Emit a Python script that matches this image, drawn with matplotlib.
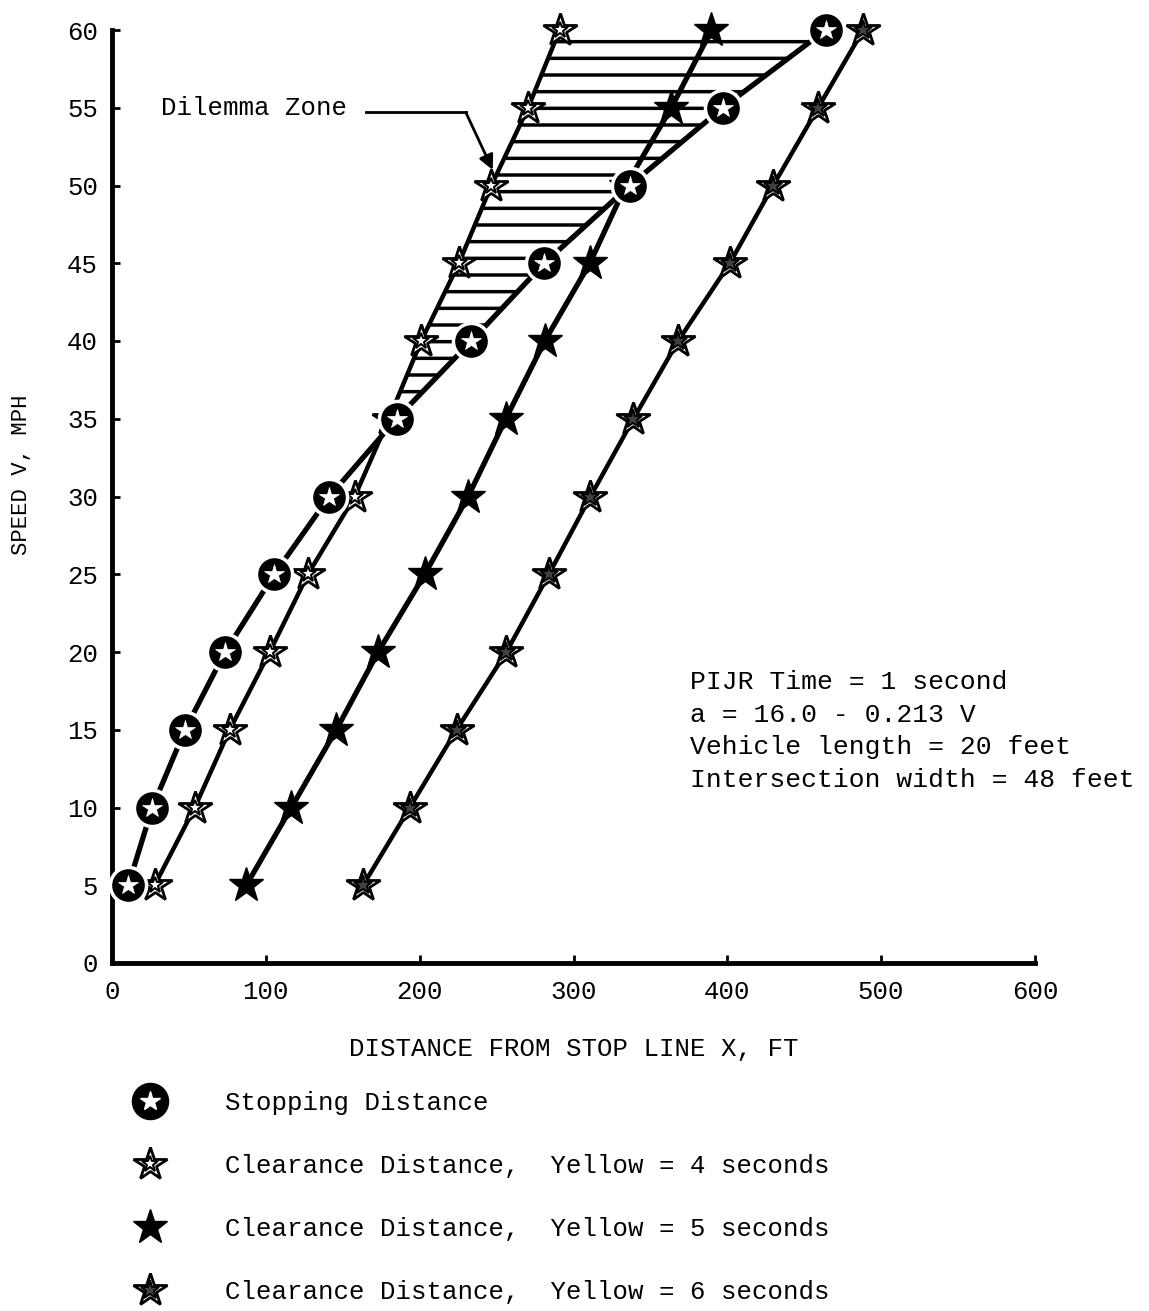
import numpy as np
import matplotlib
matplotlib.use("Agg")
import matplotlib.pyplot as plt
from matplotlib.lines import Line2D
from matplotlib.legend_handler import HandlerTuple

plt.rcParams['font.family'] = ['Liberation Mono', 'DejaVu Sans Mono']
plt.rcParams['hatch.linewidth'] = 2.5

# speed (mph) and distances from stop line (ft)
speed = [5, 10, 15, 20, 25, 30, 35, 40, 45, 50, 55, 60]
stopping = [10.6, 26.2, 47.5, 73.5, 105.5, 141.3, 185, 233.6, 281, 336.6, 397, 464]
yellow4 = [27.7, 53.8, 76.5, 102.5, 127.4, 157.8, 180, 201, 225.5, 246.6, 270.5, 291]
yellow5 = [87.3, 116.6, 145.8, 173, 203.3, 231.5, 256, 281.3, 310.6, 334, 363.6, 389.7]
yellow6 = [163.2, 193.6, 224, 256.4, 284, 311, 339, 368, 401.6, 429.8, 459, 488.3]

xticks = [0, 100, 200, 300, 400, 500, 600]
yticks = [0, 5, 10, 15, 20, 25, 30, 35, 40, 45, 50, 55, 60]

notes = ["PIJR Time = 1 second",
         "a = 16.0 - 0.213 V",
         "Vehicle length = 20 feet",
         "Intersection width = 48 feet"]

labels = ["Stopping Distance",
          "Clearance Distance,  Yellow = 4 seconds",
          "Clearance Distance,  Yellow = 5 seconds",
          "Clearance Distance,  Yellow = 6 seconds"]

FS = 18.5

fig = plt.figure(figsize=(11.49, 13.11), dpi=100)
ax = fig.add_axes([112 / 1149, 1 - 963 / 1311, (1035 - 112) / 1149, (963 - 30) / 1311])

spd = np.array(speed, dtype=float)
xs = np.array(stopping)
x4 = np.array(yellow4)

# dilemma zone hatch between the 4 s clearance line and stopping line
ax.fill_betweenx(spd, x4, xs, where=xs >= x4, interpolate=True,
                 facecolor='none', edgecolor='black', hatch='-', linewidth=0, zorder=1)

# lines
ax.plot(yellow6, speed, color='black', lw=3.2, zorder=2, clip_on=False)
ax.plot(yellow5, speed, color='black', lw=3.8, zorder=2, clip_on=False)
ax.plot(yellow4, speed, color='black', lw=3.2, zorder=2, clip_on=False)
ax.plot(stopping, speed, color='black', lw=3.8, zorder=2, clip_on=False)

# markers
ax.plot(yellow6, speed, ls='none', marker='*', ms=25, mfc='white', mec='black', mew=2, zorder=4, clip_on=False)
ax.plot(yellow6, speed, ls='none', marker='*', ms=14, mfc='0.25', mec='black', mew=1.5, zorder=5, clip_on=False)
ax.plot(yellow5, speed, ls='none', marker='*', ms=26, mfc='black', mec='black', mew=1, zorder=4, clip_on=False)
ax.plot(yellow4, speed, ls='none', marker='*', ms=25, mfc='white', mec='black', mew=2, zorder=4, clip_on=False)
ax.plot(yellow4, speed, ls='none', marker='*', ms=12, mfc='none', mec='black', mew=1.5, zorder=5, clip_on=False)
ax.plot(stopping, speed, ls='none', marker='o', ms=26, mfc='black', mec='white', mew=2.5, zorder=6, clip_on=False)
ax.plot(stopping, speed, ls='none', marker='*', ms=15, mfc='white', mec='white', mew=0.5, zorder=7, clip_on=False)

# axes styling
ax.set_xlim(0, 600)
ax.set_ylim(0, 60)
ax.set_xticks(xticks)
ax.set_yticks(yticks)
ax.spines['top'].set_visible(False)
ax.spines['right'].set_visible(False)
ax.spines['left'].set_linewidth(3.5)
ax.spines['bottom'].set_linewidth(3.5)
ax.tick_params(direction='in', length=6, width=2, labelsize=FS)
ax.tick_params(axis='x', pad=12)
ax.tick_params(axis='y', pad=10)

ax.set_xlabel("DISTANCE FROM STOP LINE X, FT", fontsize=FS, labelpad=24)
fig.text(22 / 1149, 1 - 475 / 1311, "SPEED V, MPH", rotation=90, fontsize=16,
         ha='center', va='center')

# dilemma zone annotation
ax.text(31.9, 55.0, "Dilemma Zone", fontsize=FS, ha='left', va='center')
ax.add_line(Line2D([165, 230], [54.7, 54.7], color='black', lw=2))
ax.annotate('', xy=(247.5, 51.0), xytext=(230, 54.7),
            arrowprops=dict(arrowstyle='-|>', color='black', lw=2, mutation_scale=22,
                            shrinkA=0, shrinkB=0))

for i, t in enumerate(notes):
    ax.text(376, 18.1 - i * 2.12, t, fontsize=19, ha='left', va='center')

# legend
h_stop = (Line2D([], [], ls='none', marker='o', ms=26, mfc='black', mec='black'),
          Line2D([], [], ls='none', marker='*', ms=15, mfc='white', mec='white'))
h_y4 = (Line2D([], [], ls='none', marker='*', ms=25, mfc='white', mec='black', mew=2),
        Line2D([], [], ls='none', marker='*', ms=12, mfc='none', mec='black', mew=1.5))
h_y5 = Line2D([], [], ls='none', marker='*', ms=26, mfc='black', mec='black')
h_y6 = (Line2D([], [], ls='none', marker='*', ms=25, mfc='white', mec='black', mew=2),
        Line2D([], [], ls='none', marker='*', ms=14, mfc='0.25', mec='black', mew=1.5))
fig.legend([h_stop, h_y4, h_y5, h_y6], labels, loc='upper left',
           bbox_to_anchor=(135 / 1149, 1 - 1091 / 1311), frameon=False, fontsize=FS,
           handler_map={tuple: HandlerTuple(ndivide=1)}, handlelength=1.2,
           handletextpad=2.3, labelspacing=1.52, borderpad=0, borderaxespad=0)

fig.savefig("out.png", dpi=100)
